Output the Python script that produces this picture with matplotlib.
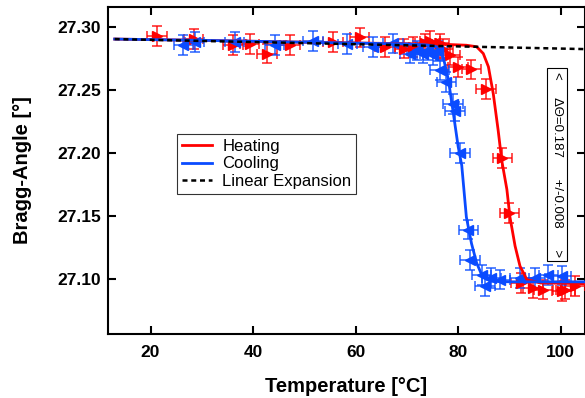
import matplotlib.pyplot as plt
from matplotlib.lines import Line2D

plt.rcParams['font.family'] = ['Liberation Sans', 'DejaVu Sans']

# measured points, heating run
heat_t = [21.3, 28.4, 36.1, 39.3, 42.7, 47.2, 55.6, 60.8, 65.7, 69.5, 71.2, 73.5, 74.5,
          76.4, 77.0, 78.4, 80.0, 82.6, 85.4, 88.6, 90.0, 92.3, 94.6, 96.6, 100.2, 100.9, 102.8]
heat_a = [27.2929, 27.2905, 27.2857, 27.2865, 27.2790, 27.2857, 27.2883, 27.2918, 27.2844,
          27.2830, 27.2840, 27.2870, 27.2890, 27.2870, 27.2830, 27.2780, 27.2685, 27.2664,
          27.2506, 27.1958, 27.1520, 27.0966, 27.0926, 27.0913, 27.0900, 27.0913, 27.0944]

# measured points, cooling run
cool_t = [26.4, 28.6, 36.4, 44.2, 51.7, 58.4, 63.4, 67.3, 70.6, 72.0, 73.2, 74.2, 75.0,
          76.0, 76.4, 77.7, 79.0, 79.4, 80.35, 82.0, 82.3, 84.6, 85.2, 86.5, 88.2, 92.0,
          95.0, 97.6, 100.2]
cool_a = [27.2857, 27.2880, 27.2880, 27.2857, 27.2890, 27.2865, 27.2840, 27.2870, 27.2790,
          27.2815, 27.2790, 27.2820, 27.2780, 27.2810, 27.2660, 27.2566, 27.2390, 27.2330,
          27.1998, 27.1390, 27.1150, 27.1030, 27.0940, 27.1005, 27.0992, 27.1005, 27.1005,
          27.1030, 27.1024]

t_err = 1.9
a_err = 0.0078

# fitted curves
heat_fit_t = [13, 30, 50, 70, 78, 81.6, 83.6, 84.9, 85.9, 86.85, 87.8, 88.5, 89.5, 90.1,
              91.1, 92.06, 93.4, 96.0, 105]
heat_fit_a = [27.2905, 27.2895, 27.2880, 27.2868, 27.2862, 27.2856, 27.2844, 27.2790,
              27.2685, 27.2470, 27.2180, 27.1940, 27.1710, 27.1490, 27.1260, 27.1100,
              27.0992, 27.0966, 27.0960]
cool_fit_t = [13, 30, 50, 70, 74, 75.8, 77.1, 78.1, 79.06, 80.0, 80.7, 81.6, 82.6, 83.6,
              84.6, 86.2, 90, 105]
cool_fit_a = [27.2905, 27.2895, 27.2880, 27.2866, 27.2858, 27.2844, 27.2760, 27.2580,
              27.2315, 27.2050, 27.1900, 27.1490, 27.1280, 27.1125, 27.1030, 27.0980,
              27.0975, 27.0975]
lin_t = [13, 105]
lin_a = [27.2905, 27.2825]

red = '#ff0000'
blue = '#0a4bff'

fig = plt.figure(figsize=(5.85, 3.98), dpi=100)
ax = fig.add_axes([108 / 585, 64 / 398, 477 / 585, 327 / 398])

ax.errorbar(heat_t, heat_a, xerr=t_err, yerr=a_err, fmt='>', color=red, ms=6.5,
            ecolor=(1, 0, 0, 0.75), elinewidth=1.3, capsize=3.5, capthick=1.3, zorder=3)
ax.errorbar(cool_t, cool_a, xerr=t_err, yerr=a_err, fmt='<', color=blue, ms=6.5,
            ecolor=(0.04, 0.3, 1, 0.75), elinewidth=1.3, capsize=3.5, capthick=1.3, zorder=3)
ax.plot(heat_fit_t, heat_fit_a, color=red, lw=2, zorder=4)
ax.plot(cool_fit_t, cool_fit_a, color=blue, lw=2, zorder=4)
ax.plot(lin_t, lin_a, color='black', lw=1.8, ls=(0, (2, 1.5)), zorder=5)

ax.set_xlim(11.7, 104.74)
ax.set_ylim(27.056, 27.316)
ax.set_xticks([20, 40, 60, 80, 100])
ax.set_yticks([27.10, 27.15, 27.20, 27.25, 27.30])
ax.set_yticklabels(['27.10', '27.15', '27.20', '27.25', '27.30'])
ax.tick_params(direction='in', length=6, width=1.5, top=True, right=True,
               labelsize=12.5)
ax.tick_params(axis='x', pad=8)
ax.tick_params(axis='y', pad=5)
for lab in ax.get_xticklabels() + ax.get_yticklabels():
    lab.set_fontweight('bold')
for s in ax.spines.values():
    s.set_linewidth(1.5)

ax.set_xlabel('Temperature [°C]', fontsize=14.5, fontweight='bold', labelpad=12)
ax.set_ylabel('Bragg-Angle [°]', fontsize=14.5, fontweight='bold', labelpad=18)

handles = [Line2D([], [], color=red, lw=2),
           Line2D([], [], color=blue, lw=2),
           Line2D([], [], color='black', lw=1.8, ls=(0, (2, 1.5)))]
leg = ax.legend(handles, ['Heating', 'Cooling', 'Linear Expansion'], loc='upper left',
                bbox_to_anchor=(0.145, 0.612), borderaxespad=0, fontsize=12,
                frameon=True, fancybox=False, edgecolor='black', handlelength=1.8,
                borderpad=0.3, labelspacing=0.15, handletextpad=0.6)
leg.get_frame().set_linewidth(0.8)

ax.text(99.3, 27.191, '<     ΔΘ=0.187      +/-0.008      >', rotation=-90, ha='center',
        va='center', fontsize=9.5,
        bbox=dict(boxstyle='square,pad=0.3', fc='white', ec='black', lw=0.8))

fig.savefig('out.png', dpi=100)
